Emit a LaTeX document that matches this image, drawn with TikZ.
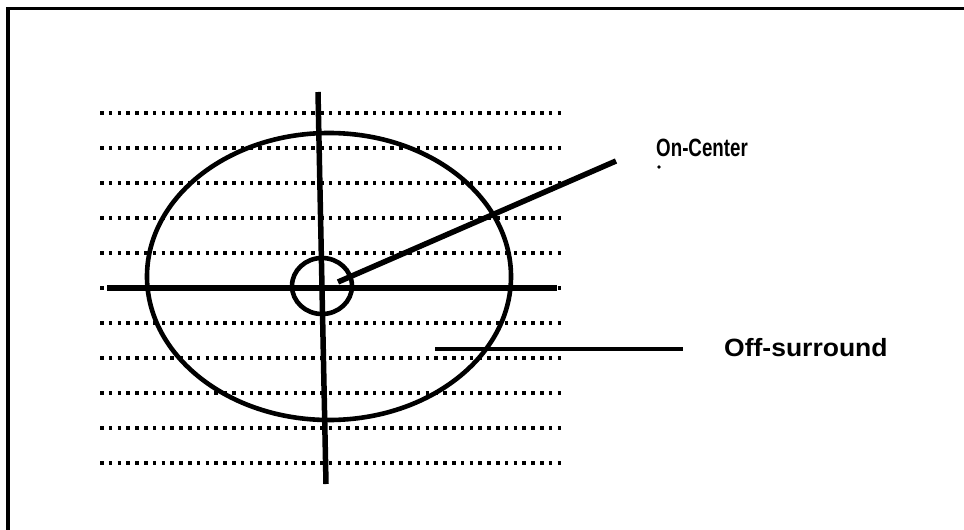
\documentclass[tikz,border=0pt]{standalone}
\usepackage{fontspec}
\setmainfont{Liberation Sans}
\usetikzlibrary{shapes.geometric}
\begin{document}
\begin{tikzpicture}[x=1pt,y=-1pt,
  dotrow/.style={line width=3.6pt, dash pattern=on 3.6pt off 5.2pt},
  thick line/.style={line width=5.5pt},
  ring/.style={draw, ellipse, line width=4.6pt, inner sep=0pt},
  lbl/.style={font=\fontsize{25}{25}\selectfont\bfseries, inner sep=0pt, anchor=west}]
\useasboundingbox (0,0) rectangle (964,530);
\fill[white] (0,0) rectangle (964,530);
% frame
\coordinate (ftr) at (964,8.5);
\coordinate (ftl) at (8,8.5);
\coordinate (fbl) at (8,530);
\draw[line width=3.5pt] (ftr) -- (ftl) -- (fbl);
% dotted rows
\foreach \i in {0,...,10}{
  \coordinate (rowL\i) at (100,113+35*\i);
  \coordinate (rowR\i) at (563,113+35*\i);
  \draw[dotrow] (rowL\i) -- (rowR\i);
}
% ellipses
\node[ring, minimum width=364pt, minimum height=287pt] (big) at (329,276.5) {};
\node[ring, minimum width=60pt, minimum height=56pt] (small) at (322,286) {};
% axes
\coordinate (vtop) at (318,92);
\coordinate (vbot) at (326,484);
\draw[thick line] (vtop) -- (vbot);
\coordinate (hl) at (107,288);
\coordinate (hr) at (557,288);
\draw[thick line] (hl) -- (hr);
% labels
\node[lbl] (on) at (656,148) {\scalebox{0.75}[1]{On-Center}};
\node[lbl] (off) at (724,348) {\scalebox{1.06}[1]{Off-surround}};
% pointer to on-center
\coordinate (pstart) at (338,282);
\coordinate (pend) at (616,161);
\draw[line width=5.5pt] (pstart) -- (pend);
\coordinate (dotpt) at (659,167);
\fill (dotpt) circle (1.8pt);
% off-surround line
\coordinate (os) at (435,349);
\coordinate (oe) at (683,349);
\draw[line width=4.5pt] (os) -- (oe);
\end{tikzpicture}
\end{document}
